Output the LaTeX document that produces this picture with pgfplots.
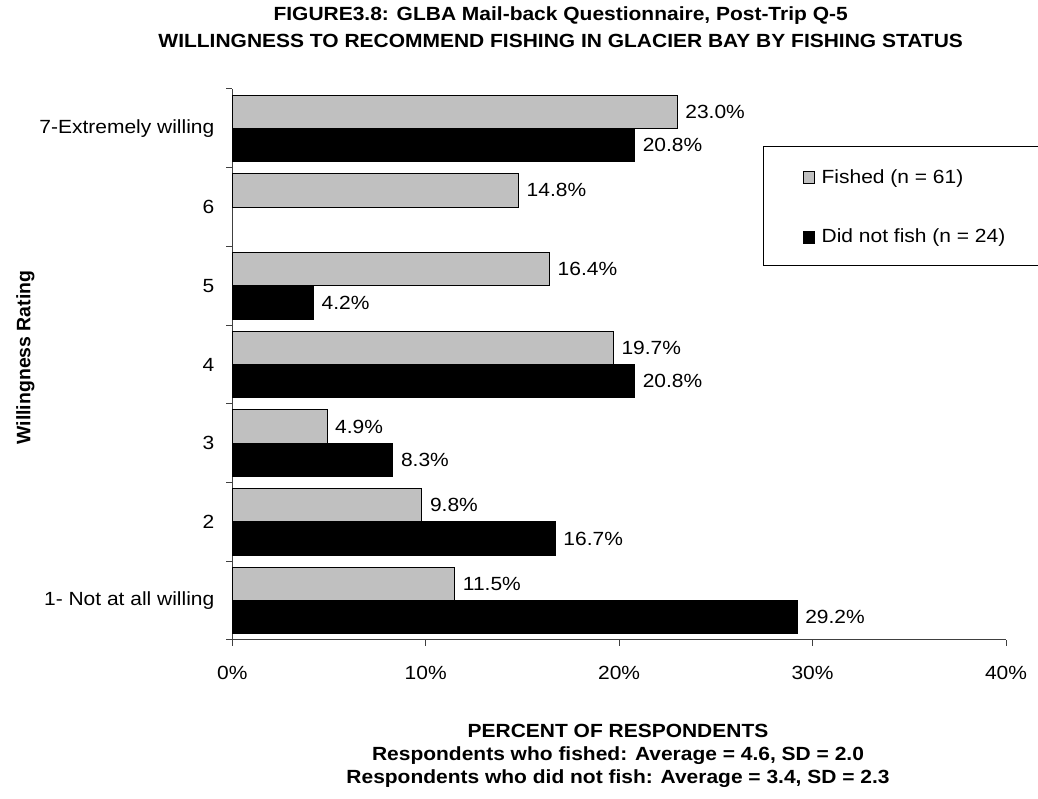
\documentclass[border=0pt]{standalone}
\usepackage{fontspec}
\setmainfont[FakeStretch=1.1]{Liberation Sans}
\newfontfamily\ylfont{Liberation Sans}
\usepackage{pgfplots}
\pgfplotsset{compat=1.18}
\definecolor{barsilver}{HTML}{C0C0C0}
\definecolor{axisgray}{HTML}{404040}
\begin{document}
\fontsize{14.3pt}{17pt}\selectfont
\begin{tikzpicture}
\useasboundingbox (0,0) rectangle (778.5pt,599.25pt);
\begin{axis}[
  at={(174.2pt,119.25pt)}, anchor=south west,
  scale only axis, width=580.3pt, height=413.25pt,
  xmin=0, xmax=40, ymin=0.5, ymax=7.5,
  xbar, bar width=25pt,
  axis lines*=left,
  axis line style={axisgray, line width=0.75pt},
  xtick={0,10,20,30,40},
  xticklabels={0\%,10\%,20\%,30\%,40\%},
  ytick={1,2,3,4,5,6,7},
  yticklabels={1- Not at all willing,2,3,4,5,6,7-Extremely willing},
  minor ytick={0.5,1.5,2.5,3.5,4.5,5.5,6.5,7.5},
  tick align=outside,
  major tick length=4.5pt, minor tick length=4.5pt,
  major y tick style={draw=none},
  minor y tick style={axisgray, line width=0.75pt},
  major x tick style={axisgray, line width=0.75pt},
  xticklabel style={yshift=-10pt},
  yticklabel style={xshift=-4pt},
  clip=false,
  point meta=x,
  nodes near coords={\pgfmathprintnumber[fixed,fixed zerofill,precision=1,assume math mode=true]{\pgfplotspointmeta}\%},
  every node near coord/.append style={anchor=west, text=black, xshift=1pt},
  legend style={at={(0.7367,0.8595)}, anchor=north west, draw=none, fill=none, row sep=28.3pt, column sep=3pt, inner sep=0pt},
  legend cell align=left,
  legend image code/.code={\draw[#1, line width=0.75pt] (0pt,-4.3pt) rectangle (8.6pt,4.3pt);},
]
\addplot[fill=barsilver, draw=black, line width=0.75pt, bar shift=12.5pt]
  coordinates {(11.5,1) (9.8,2) (4.9,3) (19.7,4) (16.4,5) (14.8,6) (23.0,7)};
\addlegendentry{Fished (n = 61)}
\addplot[fill=black, draw=black, line width=0.75pt, bar shift=-12.5pt]
  coordinates {(29.2,1) (16.7,2) (8.3,3) (20.8,4) (4.2,5) (20.8,7)};
\addlegendentry{Did not fish (n = 24)}
\end{axis}
\draw[black, line width=0.75pt] (800pt,489pt) -- (572.25pt,489pt) -- (572.25pt,399.75pt) -- (800pt,399.75pt);
\node[anchor=base, inner sep=0pt, font=\bfseries] at (420.5pt,583.7pt) {FIGURE3.8: GLBA Mail-back Questionnaire, Post-Trip Q-5};
\node[anchor=base, inner sep=0pt, font=\bfseries] at (420.5pt,563.8pt) {WILLINGNESS TO RECOMMEND FISHING IN GLACIER BAY BY FISHING STATUS};
\node[anchor=base, inner sep=0pt, font=\bfseries] at (463.5pt,46pt) {PERCENT OF RESPONDENTS};
\node[anchor=base, inner sep=0pt, font=\bfseries] at (463.5pt,29pt) {Respondents who fished: Average = 4.6, SD = 2.0};
\node[anchor=base, inner sep=0pt, font=\bfseries] at (463.5pt,11.8pt) {Respondents who did not fish: Average = 3.4, SD = 2.3};
\node[anchor=base, inner sep=0pt, rotate=90, font=\ylfont\bfseries\fontsize{14.6pt}{17pt}\selectfont] at (22.8pt,331.1pt) {Willingness Rating};
\end{tikzpicture}
\end{document}
